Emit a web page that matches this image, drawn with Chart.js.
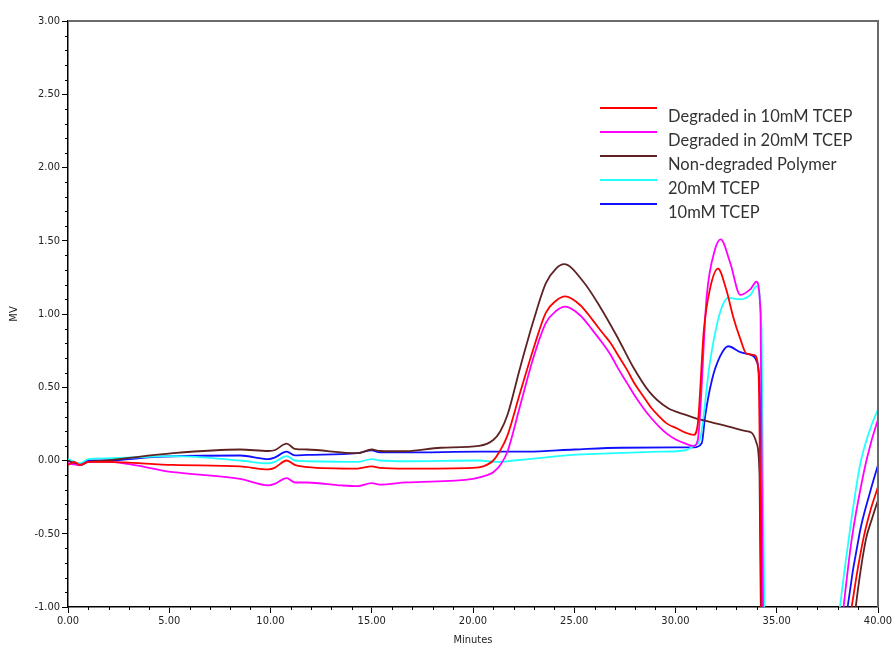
<!DOCTYPE html>
<html>
<head>
<meta charset="utf-8">
<script src="https://cdn.jsdelivr.net/npm/chart.js@4/dist/chart.umd.min.js"></script>
<style>
  html, body { margin: 0; padding: 0; background: #fff; }
  #wrap { width: 895px; height: 647px; }
</style>
</head>
<body>
<div id="wrap"><canvas id="gpcChart" width="895" height="647"></canvas></div>
<script>
// series (minutes, MV); values below -1 are off the axis
const seriesLabels = [
  "Degraded in 10mM TCEP",
  "Degraded in 20mM TCEP",
  "Non-degraded Polymer",
  "20mM TCEP",
  "10mM TCEP"
];
const seriesColors = ["#ff0000", "#ff00ff", "#5e2222", "#22ffff", "#1010ff"];

const deg10Min = [0, 0.3, 0.6, 1.0, 1.9, 5.2, 8.5, 9.9, 10.2, 10.8, 11.2, 11.8, 14.3, 15.0, 15.4, 16.7, 20.0, 20.5, 21.0, 21.35, 21.7, 22.3, 23.0, 23.6, 24.1, 24.55, 25.3, 25.9, 26.4, 26.8, 27.2, 27.6, 28.0, 28.4, 28.8, 29.2, 29.6, 30.06, 30.5, 30.9, 31.1, 31.4, 31.7, 32.1, 32.5, 32.85, 33.2, 33.5, 33.9, 34.1, 34.3, 37.5, 38.3, 38.7, 39.0, 39.3, 39.65, 40];
const deg10MV = [-0.03, -0.01, -0.03, -0.01, -0.01, -0.03, -0.04, -0.06, -0.05, 0.0, -0.03, -0.045, -0.055, -0.04, -0.05, -0.055, -0.05, -0.04, 0.0, 0.07, 0.17, 0.45, 0.77, 1.01, 1.09, 1.12, 1.06, 0.96, 0.87, 0.80, 0.71, 0.62, 0.52, 0.44, 0.36, 0.30, 0.25, 0.22, 0.19, 0.175, 0.25, 0.89, 1.17, 1.31, 1.17, 0.98, 0.83, 0.73, 0.72, 0.6, -1.5, -3.0, -1.35, -1.0, -0.74, -0.52, -0.33, -0.18];

const deg20Min = [0, 0.6, 1.0, 1.9, 5.2, 8.5, 9.9, 10.2, 10.8, 11.2, 11.8, 13.5, 14.3, 15.0, 15.4, 16.7, 20.0, 20.7, 21.0, 21.35, 21.7, 22.3, 23.0, 23.6, 24.1, 24.55, 25.3, 25.9, 26.4, 26.8, 27.2, 27.6, 28.0, 28.4, 28.8, 29.2, 29.6, 30.06, 30.5, 30.9, 31.1, 31.54, 31.95, 32.23, 32.7, 33.2, 33.7, 34.0, 34.2, 34.35, 37.5, 38.0, 38.3, 38.7, 39.3, 39.65, 40];
const deg20MV = [-0.02, -0.03, -0.01, -0.01, -0.08, -0.125, -0.17, -0.16, -0.12, -0.15, -0.15, -0.17, -0.175, -0.155, -0.165, -0.15, -0.125, -0.10, -0.08, -0.03, 0.06, 0.36, 0.71, 0.94, 1.02, 1.05, 0.99, 0.89, 0.80, 0.72, 0.62, 0.53, 0.44, 0.36, 0.29, 0.23, 0.18, 0.14, 0.115, 0.10, 0.14, 1.12, 1.44, 1.51, 1.35, 1.13, 1.17, 1.22, 1.0, -1.5, -3.0, -1.4, -1.0, -0.54, -0.08, 0.12, 0.28];

const polyMin = [0, 0.6, 1.0, 1.9, 5.2, 8.5, 9.9, 10.2, 10.8, 11.2, 11.8, 14.3, 15.0, 15.4, 16.7, 18.4, 20.3, 21.0, 21.35, 21.7, 22.3, 23.0, 23.6, 24.1, 24.5, 25.45, 26.27, 27.1, 27.9, 28.7, 29.6, 30.55, 31.2, 32.4, 33.5, 33.75, 34.0, 34.15, 34.25, 37.5, 38.6, 38.9, 39.4, 39.7, 40];
const polyMV = [0.0, -0.03, -0.01, 0.0, 0.05, 0.075, 0.065, 0.07, 0.115, 0.08, 0.075, 0.05, 0.075, 0.065, 0.063, 0.087, 0.10, 0.14, 0.20, 0.31, 0.62, 0.96, 1.21, 1.31, 1.34, 1.22, 1.05, 0.85, 0.64, 0.47, 0.36, 0.31, 0.28, 0.24, 0.20, 0.19, 0.12, -0.1, -1.5, -3.0, -1.4, -1.0, -0.54, -0.40, -0.27];

const tcep20Min = [0, 0.6, 1.0, 1.9, 5.2, 8.5, 9.9, 10.2, 10.8, 11.2, 11.8, 14.3, 15.0, 15.4, 16.7, 20.3, 21.2, 22.0, 23.5, 25.1, 27.0, 29.2, 30.5, 30.9, 31.2, 31.7, 32.2, 32.6, 33.2, 33.7, 34.0, 34.25, 34.42, 37.5, 37.8, 38.12, 38.6, 39.1, 39.6, 40];
const tcep20MV = [0.01, -0.02, 0.01, 0.015, 0.03, 0.0, -0.02, -0.01, 0.03, 0.0, -0.005, -0.01, 0.01, 0.0, -0.005, 0.0, -0.01, 0.0, 0.02, 0.04, 0.05, 0.06, 0.07, 0.10, 0.14, 0.67, 1.01, 1.11, 1.10, 1.13, 1.19, 0.9, -1.5, -3.0, -1.4, -1.0, -0.49, -0.04, 0.21, 0.35];

const tcep10Min = [0, 0.6, 1.0, 1.9, 4.4, 8.5, 9.9, 10.2, 10.8, 11.2, 11.8, 14.3, 15.0, 15.4, 16.7, 20.3, 22.7, 25.0, 27.3, 30.9, 31.3, 31.46, 31.8, 32.2, 32.6, 33.2, 33.75, 34.0, 34.2, 34.35, 37.5, 38.2, 38.5, 39.1, 39.6, 40];
const tcep10MV = [0.0, -0.03, 0.0, 0.0, 0.025, 0.034, 0.01, 0.02, 0.06, 0.035, 0.038, 0.05, 0.07, 0.055, 0.055, 0.06, 0.06, 0.075, 0.087, 0.09, 0.12, 0.30, 0.55, 0.71, 0.78, 0.74, 0.72, 0.68, 0.3, -1.5, -3.0, -1.4, -1.0, -0.49, -0.22, -0.03];

const seriesMin = [deg10Min, deg20Min, polyMin, tcep20Min, tcep10Min];
const seriesMV = [deg10MV, deg20MV, polyMV, tcep20MV, tcep10MV];

const xTicks = [0, 5, 10, 15, 20, 25, 30, 35, 40];
const yTicks = [-1, -0.5, 0, 0.5, 1, 1.5, 2, 2.5, 3];

const tickFont = { family: "'Liberation Sans Narrow', 'DejaVu Sans Condensed', Arial, sans-serif", size: 11 };

// minor ticks (1 min / 0.1 MV), border box and the legend block
const decorPlugin = {
  id: "decor",
  afterDraw(chart) {
    const { ctx, chartArea, scales } = chart;
    const x = scales.x, y = scales.y;
    ctx.save();
    ctx.strokeStyle = "#000";
    ctx.lineWidth = 1;
    for (let m = 0; m <= 40; m++) {
      if (m % 5 === 0) continue;
      const px = Math.round(x.getPixelForValue(m)) + 0.5;
      ctx.beginPath();
      ctx.moveTo(px, chartArea.bottom);
      ctx.lineTo(px, chartArea.bottom + 3);
      ctx.stroke();
    }
    for (let k = -10; k <= 30; k++) {
      if (k % 5 === 0) continue;
      const py = Math.round(y.getPixelForValue(k / 10)) + 0.5;
      ctx.beginPath();
      ctx.moveTo(chartArea.left - 3, py);
      ctx.lineTo(chartArea.left, py);
      ctx.stroke();
    }
    // top and right frame
    ctx.strokeStyle = "#6a6a6a";
    ctx.lineWidth = 2;
    ctx.beginPath();
    ctx.moveTo(chartArea.left, chartArea.top);
    ctx.lineTo(chartArea.right, chartArea.top);
    ctx.lineTo(chartArea.right, chartArea.bottom);
    ctx.stroke();

    // legend
    const lx = chartArea.right - 278;
    let ly = chartArea.top + 87;
    ctx.font = "16.5px Lato, 'Open Sans', sans-serif";
    ctx.textBaseline = "middle";
    ctx.textAlign = "left";
    seriesLabels.forEach((lab, i) => {
      ctx.strokeStyle = seriesColors[i];
      ctx.lineWidth = 2;
      ctx.beginPath();
      ctx.moveTo(lx, ly);
      ctx.lineTo(lx + 57, ly);
      ctx.stroke();
      ctx.fillStyle = "#333";
      ctx.fillText(lab, lx + 68, ly + 9);
      ly += 24;
    });
    ctx.restore();
  }
};

const datasets = seriesLabels.map((lab, i) => ({
  label: lab,
  data: seriesMin[i].map((t, j) => ({ x: t, y: seriesMV[i][j] })),
  borderColor: seriesColors[i],
  backgroundColor: seriesColors[i],
  borderWidth: 1.8,
  pointRadius: 0,
  fill: false,
  cubicInterpolationMode: "monotone"
}));

new Chart(document.getElementById("gpcChart"), {
  type: "line",
  data: { datasets },
  plugins: [decorPlugin],
  options: {
    responsive: false,
    animation: false,
    layout: { padding: { top: 21, right: 17, left: 0, bottom: 0 } },
    plugins: {
      legend: { display: false },
      tooltip: { enabled: false }
    },
    scales: {
      x: {
        type: "linear",
        min: 0,
        max: 40,
        afterFit: (s) => { s.height = 40; },
        afterBuildTicks: (s) => { s.ticks = xTicks.map((v) => ({ value: v })); },
        ticks: {
          font: tickFont,
          color: "#222",
          padding: 2,
          maxRotation: 0,
          callback: (v) => Number(v).toFixed(2)
        },
        grid: { drawOnChartArea: false, tickLength: 6, color: "#000" },
        border: { color: "#000", width: 1.5 },
        title: { display: true, text: "Minutes", font: tickFont, color: "#222", padding: { top: 0, bottom: 0 } }
      },
      y: {
        type: "linear",
        min: -1,
        max: 3,
        afterFit: (s) => { s.width = 68; },
        afterBuildTicks: (s) => { s.ticks = yTicks.map((v) => ({ value: v })); },
        ticks: {
          font: tickFont,
          color: "#222",
          padding: 2,
          callback: (v) => Number(v).toFixed(2)
        },
        grid: { drawOnChartArea: false, tickLength: 6, color: "#000" },
        border: { color: "#000", width: 1.5 },
        title: { display: true, text: "MV", font: tickFont, color: "#222", padding: { top: 8, bottom: 0 } }
      }
    }
  }
});
</script>
</body>
</html>
